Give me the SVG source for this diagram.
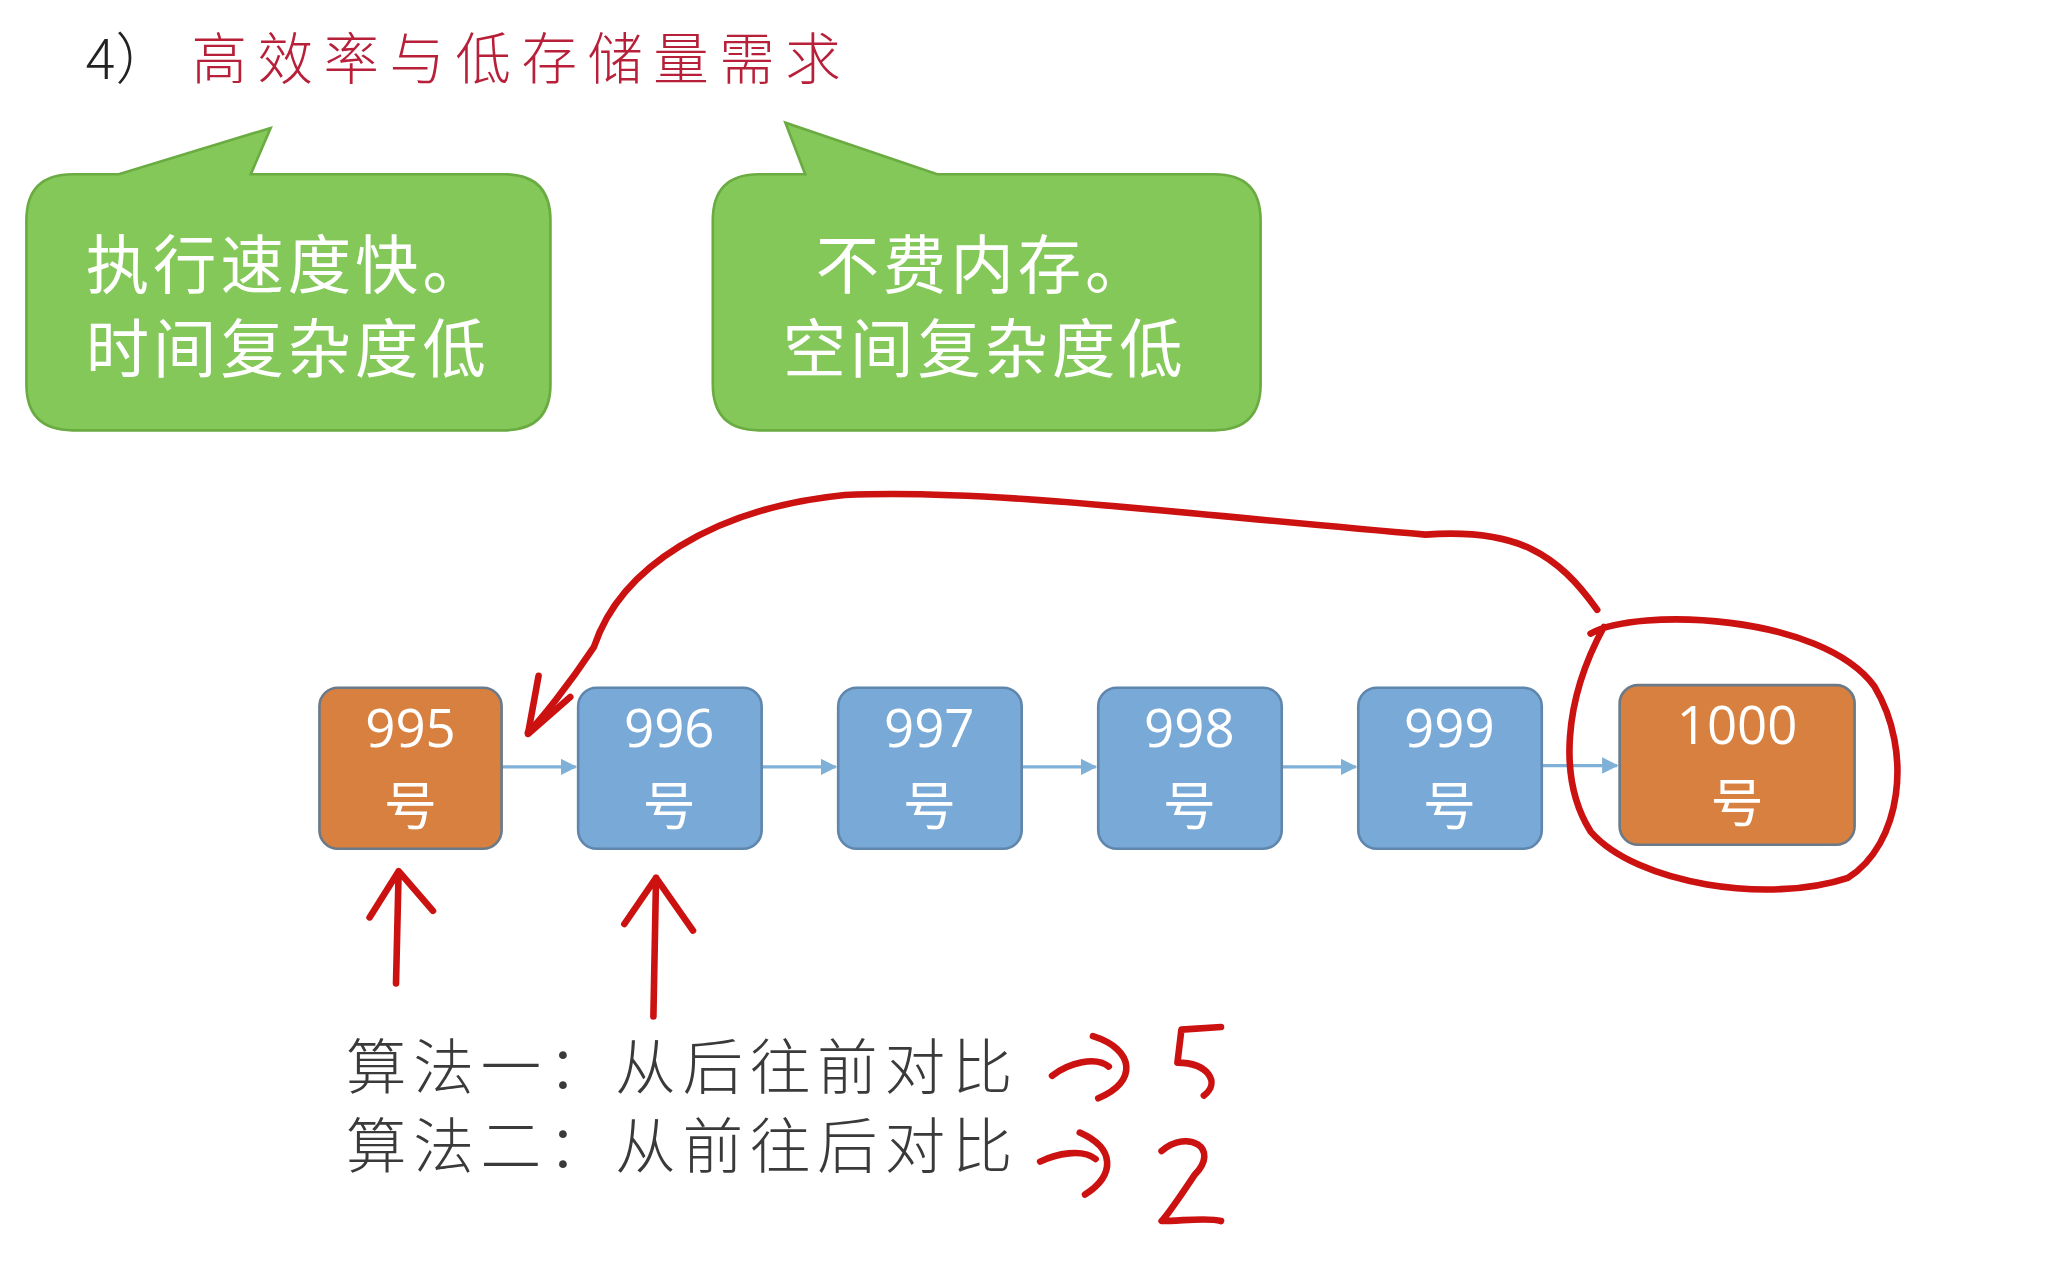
<svg xmlns="http://www.w3.org/2000/svg" width="2058" height="1268" viewBox="0 0 2058 1268">
<style>
.cjk{font-family:"Noto Sans CJK SC","Liberation Sans",sans-serif}
.call{fill:#85c85a;stroke:#6aab42;stroke-width:2}
.ct{fill:#fff;font-size:48px;letter-spacing:3px}
.org{fill:#d8803f;stroke:#6b7a88;stroke-width:2}
.blu{fill:#79a9d6;stroke:#5f86ad;stroke-width:2}
.nt{fill:#fff;font-size:40px;text-anchor:middle;font-family:"Open Sans","Noto Sans CJK SC",sans-serif}
.ink{fill:none;stroke:#cc1111;stroke-width:5;stroke-linecap:round;stroke-linejoin:round}
.con{stroke:#7fb0d8;stroke-width:2.5;marker-end:url(#ah)}
</style>
<defs><marker id="ah" viewBox="0 0 10 10" refX="9" refY="5" markerWidth="5" markerHeight="5" orient="auto"><path d="M0 0L10 5L0 10z" fill="#7fb0d8"/></marker></defs>
<rect width="2058" height="1268" fill="#fff"/>
<g transform="scale(1.32)">
<g id="title" class="cjk" font-size="42" font-weight="300">
<text x="65" y="60" fill="#222">4）</text>
<text x="145" y="60" fill="#b8203a" letter-spacing="8">高效率与低存储量需求</text>
</g>
<g id="callout1">
<path class="call" d="M55 132H90L205 97L190 132H382Q417 132 417 167V291Q417 326 382 326H55Q20 326 20 291V167Q20 132 55 132Z"/>
<text class="ct cjk" x="65" y="218">执行速度快。</text>
<text class="ct cjk" x="65" y="282">时间复杂度低</text>
</g>
<g id="callout2">
<path class="call" d="M575 132H610L595 93L710 132H920Q955 132 955 167V291Q955 326 920 326H575Q540 326 540 291V167Q540 132 575 132Z"/>
<text class="ct cjk" x="618" y="218">不费内存。</text>
<text class="ct cjk" x="593" y="282">空间复杂度低</text>
</g>
<g id="connectors">
<line class="con" x1="380" y1="581" x2="436" y2="581"/>
<line class="con" x1="577" y1="581" x2="633" y2="581"/>
<line class="con" x1="774" y1="581" x2="830" y2="581"/>
<line class="con" x1="971" y1="581" x2="1027" y2="581"/>
<line class="con" x1="1168" y1="580" x2="1225" y2="580"/>
</g>
<g id="n995"><rect class="org" x="242" y="521" width="138" height="122" rx="14"/><text class="nt" x="311" y="566">995</text><text class="nt" x="311" y="625">号</text></g>
<g id="n996"><rect class="blu" x="438" y="521" width="139" height="122" rx="14"/><text class="nt" x="507" y="566">996</text><text class="nt" x="507" y="625">号</text></g>
<g id="n997"><rect class="blu" x="635" y="521" width="139" height="122" rx="14"/><text class="nt" x="704" y="566">997</text><text class="nt" x="704" y="625">号</text></g>
<g id="n998"><rect class="blu" x="832" y="521" width="139" height="122" rx="14"/><text class="nt" x="901" y="566">998</text><text class="nt" x="901" y="625">号</text></g>
<g id="n999"><rect class="blu" x="1029" y="521" width="139" height="122" rx="14"/><text class="nt" x="1098" y="566">999</text><text class="nt" x="1098" y="625">号</text></g>
<g id="n1000"><rect class="org" x="1227" y="519" width="178" height="121" rx="14"/><text class="nt" x="1316" y="564">1000</text><text class="nt" x="1316" y="623">号</text></g>
<g id="ink">
<path class="ink" d="M1210 462C1180 420 1150 400 1080 405C900 390 750 370 640 375C540 385 470 430 450 490C430 520 410 545 400 555"/>
<path class="ink" d="M408 512L400 556L432 528"/>
<path class="ink" d="M1205 480C1240 460 1380 465 1420 520C1450 570 1440 640 1400 665C1340 685 1240 670 1205 630C1180 590 1185 530 1215 475"/>
<path class="ink" d="M300 745L302 660M280 695L302 660L328 690"/>
<path class="ink" d="M495 770L497 665M473 700L497 665L525 705"/>
<path class="ink" d="M797 815C810 805 830 800 840 808M828 785C860 795 862 820 832 832"/>
<path class="ink" d="M925 778L895 780L892 805C915 805 925 820 912 830"/>
<path class="ink" d="M788 880C800 874 820 870 830 878M818 858C845 870 845 890 822 905"/>
<path class="ink" d="M880 872C900 855 925 870 905 890C895 905 885 920 880 925C895 925 915 922 925 925"/>
</g>
<g id="algs" class="cjk" font-size="46" fill="#3a3a3a" font-weight="300" letter-spacing="5">
<text x="262" y="825">算法一：从后往前对比</text>
<text x="262" y="885">算法二：从前往后对比</text>
</g>
</g>
</svg>
